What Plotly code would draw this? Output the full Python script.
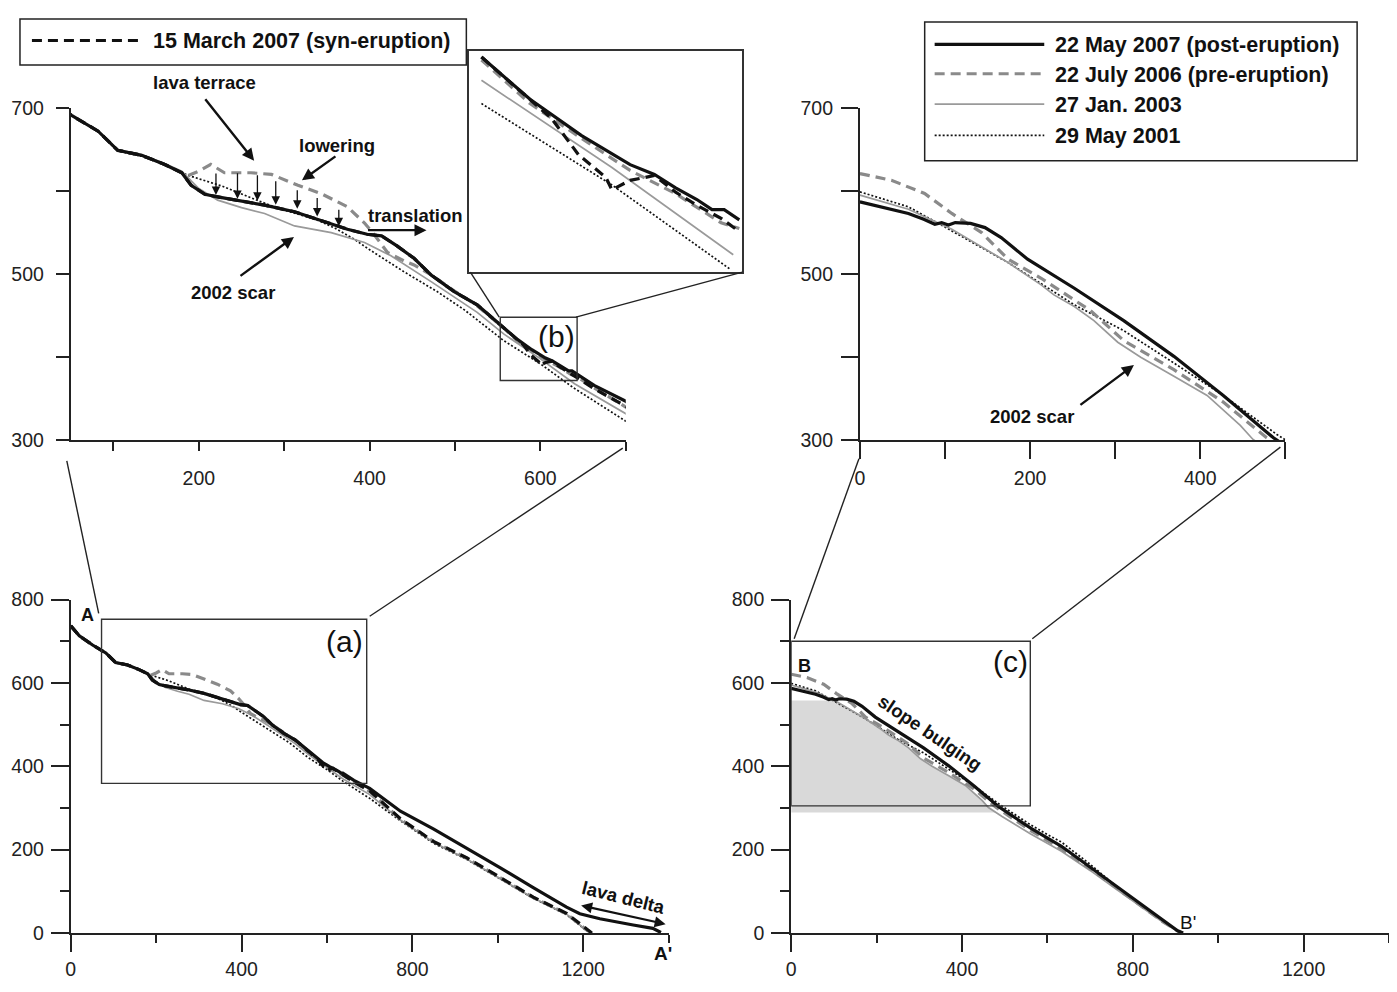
import numpy as np
import plotly.graph_objects as go

# page geometry: the browser body keeps its default 8px margin, so the figure is
# sized to fit inside the 1397x992 window and every pixel position is shifted by it
WIN_W, WIN_H, OFF = 1397, 992, 8
W, H = WIN_W - 2 * OFF, WIN_H - 2 * OFF
FONT = "Liberation Sans, Arial, sans-serif"

# ---------------- Profile A-A' (distance [m], elevation [m]) ----------------
a_post_x = [0, 20, 51, 82, 105, 133, 160, 180, 191, 207, 222, 245, 277, 312, 339, 374, 397, 414, 432, 452,
            472, 499, 526, 557, 573, 590, 606, 614, 621, 628, 633, 637, 642, 663, 700, 772, 850, 928, 1006, 1083,
            1161, 1192, 1239, 1317, 1363, 1382]
a_post_y = [737, 713, 691, 672, 649, 643, 632, 622, 607, 596, 593, 589, 583, 575, 566, 554, 548, 546, 534, 519,
            499, 479, 463, 436, 421.5, 409, 399, 395.6, 391, 387, 383.5, 383.5, 380, 366, 347, 292, 249, 203, 156, 109,
            62, 46, 34, 19, 11, 1]

a_syn_x = [0, 20, 51, 82, 105, 133, 160, 180, 191, 207, 222, 245, 277, 312, 339, 374, 397, 414, 432, 452,
           472, 499, 526, 557, 573, 580, 589, 598, 600, 606, 611, 614, 621, 628, 636, 642, 663, 700, 772, 850,
           928, 1006, 1083, 1161, 1208, 1220]
a_syn_y = [737, 713, 691, 672, 649, 643, 632, 622, 607, 596, 593, 589, 583, 575, 566, 554, 548, 546, 534, 519,
           499, 479, 463, 436, 421.5, 415, 402.4, 394.6, 390.3, 393.6, 394.6, 395.3, 389.5, 385, 380.5, 376, 362, 341, 274, 219,
           180, 133, 86, 47, 8, 0]

a_pre_x = [0, 20, 51, 82, 105, 133, 160, 180, 187, 200, 214, 230, 261, 285, 316, 343, 374, 394, 405, 421,
           440, 452, 472, 499, 526, 557, 573, 590, 606, 621, 636, 642, 663, 700, 772, 850, 928, 1006, 1083, 1161,
           1208, 1220]
a_pre_y = [737, 713, 691, 672, 649, 643, 632, 622, 618.5, 624, 632, 622, 622, 620, 607, 597, 581, 561.5, 548, 526,
           516, 511, 499, 480, 462, 435, 420, 408, 397, 389, 379, 377, 363, 340, 273, 219, 179, 132, 85, 46,
           7, 0]

a_2003_x = [0, 20, 51, 82, 105, 133, 160, 180, 200, 222, 250, 277, 312, 355, 394, 425, 472, 499, 526, 557,
            600, 640, 700, 772, 850, 928, 1006, 1083, 1161, 1208, 1219]
a_2003_y = [737, 713, 691, 672, 650, 644, 633, 624, 603, 589, 580, 573, 558, 550, 538, 522, 491, 473, 454, 428,
            398, 368, 332, 271, 217, 177, 130, 84, 45, 6, 0]

a_2001_x = [0, 20, 51, 82, 105, 133, 160, 187, 227, 262, 290, 320, 339, 360, 382, 402, 440, 479, 511, 557,
            600, 639, 700, 772, 850, 928, 1006, 1083, 1161, 1208, 1222]
a_2001_y = [737, 713, 691, 672, 648, 642, 632, 619, 606, 592, 580, 571, 565, 555, 542, 528, 503, 479, 457, 420,
            392, 363, 323, 269, 215, 176, 129, 83, 44, 5, 0]

# ---------------- Profile B-B' ----------------
b_post_x = [0, 38, 57, 75, 88, 96, 104, 112, 130, 147, 166, 197, 252, 310, 369, 427, 486, 560, 633, 700,
            760, 827, 870, 905, 918]
b_post_y = [587, 578, 573, 566, 560, 562, 559, 562, 561, 556, 544, 518, 483, 444, 401, 354, 303, 252, 208, 158,
            112, 62, 30, 5, 0]

b_pre_x = [0, 37, 76, 108, 143, 174, 213, 271, 310, 369, 427, 478, 560, 633, 700, 760, 827, 870, 905, 915]
b_pre_y = [621, 613, 597, 573, 550, 518, 495, 456, 420, 385, 346, 303, 246, 202, 154, 109, 59, 27, 5, 0]

b_2003_x = [0, 57, 108, 174, 213, 228, 252, 275, 303, 330, 369, 408, 447, 462, 493, 560, 633, 700, 760, 827,
            870, 905, 912]
b_2003_y = [595, 578, 554, 514, 487, 475, 461, 444, 418, 400, 377, 354, 318, 301, 280, 238, 196, 150, 106, 57,
            26, 4, 0]

b_2001_x = [0, 57, 108, 174, 252, 310, 369, 427, 490, 560, 600, 633, 700, 760, 827, 870, 905, 916]
b_2001_y = [599, 581, 552, 514, 463, 432, 393, 354, 307, 260, 236, 218, 165, 113, 60, 28, 6, 0]

# shaded block in panel (c): elevation band below the 2003 surface
shade_top, shade_bottom = 558, 289

legend_names = ["15 March 2007 (syn-eruption)", "22 May 2007 (post-eruption)",
                "22 July 2006 (pre-eruption)", "27 Jan. 2003", "29 May 2001"]

# ---------------- styles ----------------
STY = {
    "post": dict(color="#111111", width=3.2, dash="solid"),
    "syn": dict(color="#111111", width=3.2, dash="10px,6px"),
    "pre": dict(color="#8a8a8a", width=3.2, dash="10px,6px"),
    "y2003": dict(color="#9a9a9a", width=1.7, dash="solid"),
    "y2001": dict(color="#111111", width=1.7, dash="2px,2px"),
}
TICK_SIZE = 19.5
NOTE_SIZE = 18.5
LEG_SIZE = 21.5


def px2x(p):
    return (p - OFF) / W


def px2y(p):
    return 1 - (p - OFF) / H


def xdom(a, b):
    return [px2x(a), px2x(b)]


def ydom(top, bottom):
    return [px2y(bottom), px2y(top)]


fig = go.Figure()

# shaded band (panel c)
xs = np.array(b_2003_x, float)
ys = np.array(b_2003_y, float)
x_top = float(np.interp(shade_top, ys[::-1], xs[::-1]))
x_bot = float(np.interp(shade_bottom, ys[::-1], xs[::-1]))
m = (ys < shade_top) & (ys > shade_bottom)
poly_x = [0, 0, x_top] + list(xs[m]) + [x_bot, 0]
poly_y = [shade_bottom, shade_top, shade_top] + list(ys[m]) + [shade_bottom, shade_bottom]
fig.add_trace(go.Scatter(x=poly_x, y=poly_y, fill="toself", fillcolor="#d9d9d9", mode="lines",
                         line=dict(width=0, color="#d9d9d9"), xaxis="x4", yaxis="y4", hoverinfo="skip",
                         showlegend=False))


def add(xa, ya, x, y, key, mask=None):
    x = np.array(x, float)
    y = np.array(y, float)
    if mask is not None:
        sel = (x >= mask[0]) & (x <= mask[1])
        x, y = x[sel], y[sel]
    fig.add_trace(go.Scatter(x=x, y=y, mode="lines", line=STY[key], xaxis=xa, yaxis=ya,
                             showlegend=False, hoverinfo="skip"))


A = [(a_2001_x, a_2001_y, "y2001"), (a_2003_x, a_2003_y, "y2003"), (a_pre_x, a_pre_y, "pre"),
     (a_post_x, a_post_y, "post"), (a_syn_x, a_syn_y, "syn")]
B = [(b_2001_x, b_2001_y, "y2001"), (b_2003_x, b_2003_y, "y2003"), (b_pre_x, b_pre_y, "pre"),
     (b_post_x, b_post_y, "post")]

for xx, yy, k in A:
    add("x", "y", xx, yy, k)           # zoom of (a)
    add("x3", "y3", xx, yy, k)         # full profile A-A'
    add("x5", "y5", xx, yy, k, mask=(555, 645))  # inset (b)
for xx, yy, k in B:
    add("x2", "y2", xx, yy, k)         # zoom of (c)
    add("x4", "y4", xx, yy, k)         # full profile B-B'

# ---------------- axes ----------------
base = dict(showline=True, linecolor="#222", linewidth=2, ticks="outside", tickcolor="#222", tickwidth=2,
            showgrid=False, zeroline=False, tickfont=dict(family=FONT, size=TICK_SIZE, color="#222"),
            fixedrange=True)

lay = {}
# top-left
lay["xaxis"] = dict(base, domain=xdom(66, 623), range=[50, 700], anchor="y",
                    tickvals=[100, 200, 300, 400, 500, 600, 700], ticktext=["", "200", "", "400", "", "600", ""],
                    ticklen=9, ticklabelstandoff=10)
lay["yaxis"] = dict(base, domain=ydom(99, 439), range=[300, 700], anchor="x",
                    tickvals=[300, 400, 500, 600, 700], ticktext=["300", "", "500", "", "700"],
                    ticklen=13, ticklabelstandoff=8)
# top-right
lay["xaxis2"] = dict(base, domain=xdom(858, 1285), range=[0, 500], anchor="y2",
                     tickvals=[0, 100, 200, 300, 400, 500], ticktext=["0", "", "200", "", "400", ""],
                     ticklen=17, ticklabelstandoff=2)
lay["yaxis2"] = dict(base, domain=ydom(99, 439), range=[300, 700], anchor="x2",
                     tickvals=[300, 400, 500, 600, 700], ticktext=["300", "", "500", "", "700"],
                     ticklen=17, ticklabelstandoff=4)
# bottom-left
lay["xaxis3"] = dict(base, domain=xdom(66, 666), range=[0, 1400], anchor="y3",
                     tickvals=[0, 400, 800, 1200], ticklen=17, ticklabelstandoff=1,
                     minor=dict(tickvals=[200, 600, 1000, 1400], ticklen=8, ticks="outside", tickcolor="#222",
                                tickwidth=2))
lay["yaxis3"] = dict(base, domain=ydom(602, 943), range=[0, 800], anchor="x3",
                     tickvals=[0, 200, 400, 600, 800], ticklen=18, ticklabelstandoff=3,
                     minor=dict(tickvals=[100, 300, 500, 700], ticklen=9, ticks="outside", tickcolor="#222",
                                tickwidth=2))
# bottom-right
lay["xaxis4"] = dict(base, domain=xdom(789, 1389), range=[0, 1400], anchor="y4",
                     tickvals=[0, 400, 800, 1200], ticklen=17, ticklabelstandoff=1,
                     minor=dict(tickvals=[200, 600, 1000, 1400], ticklen=8, ticks="outside", tickcolor="#222",
                                tickwidth=2))
lay["yaxis4"] = dict(base, domain=ydom(602, 943), range=[0, 800], anchor="x4",
                     tickvals=[0, 200, 400, 600, 800], ticklen=18, ticklabelstandoff=3,
                     minor=dict(tickvals=[100, 300, 500, 700], ticklen=9, ticks="outside", tickcolor="#222",
                                tickwidth=2))
# inset (b)
lay["xaxis5"] = dict(domain=xdom(466, 740), range=[553, 643], anchor="y5", showline=True, mirror=True,
                     linecolor="#333", linewidth=2, ticks="", showticklabels=False, showgrid=False,
                     zeroline=False, fixedrange=True)
lay["yaxis5"] = dict(domain=ydom(41, 267), range=[362, 438], anchor="x5", showline=True, mirror=True,
                     linecolor="#333", linewidth=2, ticks="", showticklabels=False, showgrid=False,
                     zeroline=False, fixedrange=True)

# ---------------- shapes ----------------
shapes = []
box_line = dict(color="#333", width=1.4)
shapes.append(dict(type="rect", xref="x3", yref="y3", x0=72, x1=693, y0=359, y1=753, line=box_line))
shapes.append(dict(type="rect", xref="x", yref="y", x0=553, x1=643, y0=372, y1=448, line=box_line))
shapes.append(dict(type="rect", xref="x4", yref="y4", x0=0, x1=560, y0=305, y1=700, line=box_line))


def pline(p0, p1, width=1.4, color="#222", dash="solid"):
    return dict(type="line", xref="paper", yref="paper", x0=px2x(p0[0]), y0=px2y(p0[1]),
                x1=px2x(p1[0]), y1=px2y(p1[1]), line=dict(color=color, width=width, dash=dash))


for p0, p1 in [((62, 460), (94, 616)), ((620, 447), (366, 619)), ((857, 458), (792, 642)),
               ((1280, 446), (1031, 642)), ((467, 267), (496, 313)), ((573, 313), (740, 267))]:
    shapes.append(pline(p0, p1))

# legend boxes (custom, to get long line samples)
shapes.append(dict(type="rect", xref="paper", yref="paper", x0=px2x(15), x1=px2x(463), y0=px2y(55), y1=px2y(8),
                   line=dict(color="#222", width=1.5), fillcolor="white"))
shapes.append(dict(type="rect", xref="paper", yref="paper", x0=px2x(923), x1=px2x(1357), y0=px2y(153),
                   y1=px2y(11), line=dict(color="#222", width=1.5), fillcolor="white"))
shapes.append(pline((27, 30), (137, 30), width=STY["syn"]["width"], color=STY["syn"]["color"],
                    dash=STY["syn"]["dash"]))
legend_rows = [("post", 34), ("pre", 64), ("y2003", 95), ("y2001", 127)]
for k, yy in legend_rows:
    shapes.append(pline((933, yy), (1043, yy), width=STY[k]["width"], color=STY[k]["color"], dash=STY[k]["dash"]))

# ---------------- annotations ----------------
ann = []


def label(text, cx, cy, size, bold=False, angle=0, anchor="center"):
    t = f"<b>{text}</b>" if bold else text
    ann.append(dict(x=px2x(cx), y=px2y(cy), xref="paper", yref="paper", text=t, showarrow=False,
                    font=dict(family=FONT, size=size, color="#111"), textangle=angle,
                    xanchor=anchor, yanchor="middle"))


def arrow(tail, head, width=2.4, size=1.0, both=False):
    ann.append(dict(x=px2x(head[0]), y=px2y(head[1]), xref="paper", yref="paper", text="",
                    ax=tail[0] - head[0], ay=tail[1] - head[1], axref="pixel", ayref="pixel",
                    showarrow=True, arrowhead=2, arrowsize=size, arrowwidth=width, arrowcolor="#111",
                    standoff=0, startstandoff=0, arrowside="end+start" if both else "end"))


label(legend_names[0], 146, 31, LEG_SIZE, bold=True, anchor="left")
for (k, yy), name in zip(legend_rows, legend_names[1:]):
    label(name, 1052, yy + 1, LEG_SIZE, bold=True, anchor="left")

label("lava terrace", 200, 73, NOTE_SIZE, bold=True)
arrow((200, 90), (250, 153))
label("lowering", 333, 137, NOTE_SIZE, bold=True)
arrow((333, 148), (298, 173))
label("translation", 412, 209, NOTE_SIZE, bold=True)
arrow((363, 224), (423, 224))
label("2002 scar", 229, 288, NOTE_SIZE, bold=True)
arrow((235, 271), (290, 231))
label("2002 scar", 1031, 415, NOTE_SIZE, bold=True)
arrow((1078, 403), (1133, 362))

# lowering arrows: from the pre-eruption terrace down to the syn-eruption surface
for xp, y0, y1 in [(211.7, 165, 188), (233.3, 165, 192), (253.3, 167, 194), (271.7, 173, 198),
                   (293.3, 182, 202), (313.3, 190, 210), (335, 202, 220)]:
    arrow((xp, y0), (xp, y1), width=1.3, size=1.3)

label("(b)", 553, 333, 30)
label("(a)", 341, 645, 30)
label("(c)", 1009, 665, 30)
label("A", 83, 618, 18, bold=True)
label("A'", 660, 964, 19, bold=True)
label("B", 802, 670, 18, bold=True)
label("B'", 1187, 932, 19)
label("lava delta", 621, 907, NOTE_SIZE, bold=True, angle=14)
arrow((577, 915), (663, 934), width=2.2, both=True)
label("slope bulging", 928, 738, NOTE_SIZE, bold=True, angle=34)

fig.update_layout(width=W, height=H, margin=dict(l=0, r=0, t=0, b=0, pad=0),
                  paper_bgcolor="white", plot_bgcolor="white", showlegend=False,
                  shapes=shapes, annotations=ann, **lay)

fig.write_html("out.html", config={"displayModeBar": False})
